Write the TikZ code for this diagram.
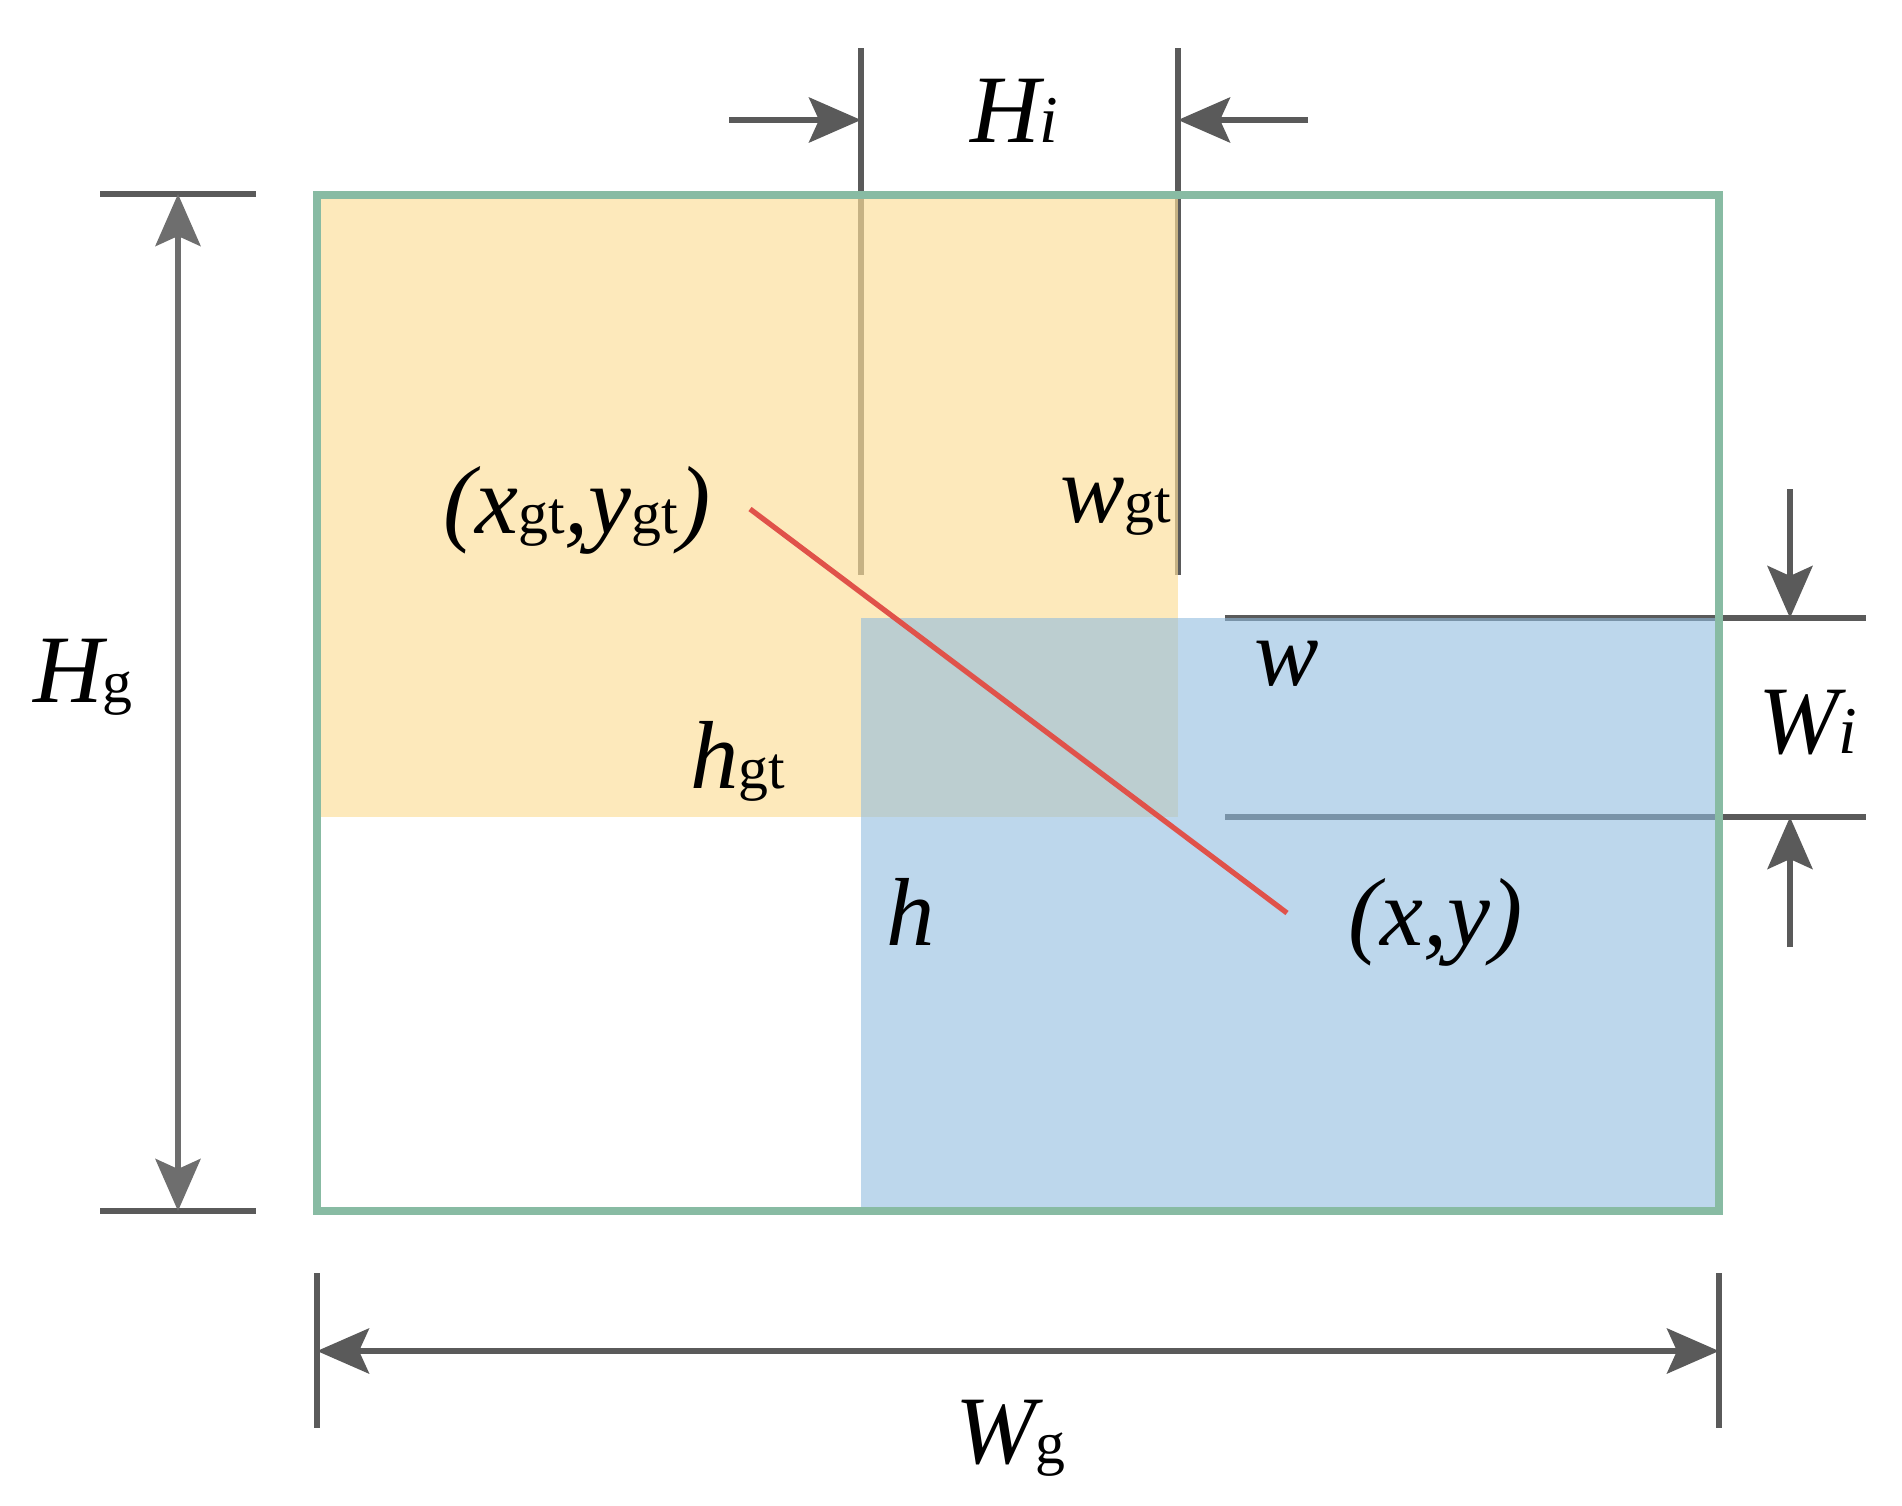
\documentclass[tikz,border=0pt]{standalone}
\usepackage{fontspec}
\setmainfont{Liberation Serif}
\usetikzlibrary{arrows.meta}
\definecolor{gridgrey}{HTML}{5A5A5A}
\definecolor{lightgrey}{HTML}{6E6E6E}
\definecolor{boxgreen}{HTML}{88BBA3}
\definecolor{gtfill}{RGB}{252,222,153}
\definecolor{predfill}{RGB}{143,187,223}
\definecolor{linkred}{HTML}{E0524A}
\newcommand{\subi}[1]{{\fontsize{19}{19}\selectfont\itshape #1}}
\newcommand{\subg}[1]{{\fontsize{17}{17}\selectfont\upshape #1}}
\tikzset{
  dimline/.style={draw=gridgrey, line width=1.6pt},
  dimarrow/.style={draw=gridgrey, line width=1.6pt, -{Stealth[length=0.52cm,width=0.45cm,inset=0.1cm]}},
  lbl/.style={inner sep=0pt, outer sep=0pt, anchor=base west, font=\fontsize{27.5}{27.5}\selectfont\itshape, text=black}
}
\begin{document}
\begin{tikzpicture}[x=0.01cm, y=-0.01cm]
\useasboundingbox (0,0) rectangle (1902,1506);
% guide lines (drawn under the translucent boxes)
\coordinate (vl1t) at (861,48);   \coordinate (vl1b) at (861,575);
\coordinate (vl2t) at (1178,48);  \coordinate (vl2b) at (1178,575);
\coordinate (hl1l) at (1225,618); \coordinate (hl1r) at (1866,618);
\coordinate (hl2l) at (1225,817); \coordinate (hl2r) at (1866,817);
\draw[dimline] (vl1t) -- (vl1b);
\draw[dimline] (vl2t) -- (vl2b);
\draw[dimline] (hl1l) -- (hl1r);
\draw[dimline] (hl2l) -- (hl2r);
% boxes
\fill[gtfill, fill opacity=0.665] (317,195) rectangle (1178,817);
\fill[predfill, fill opacity=0.59] (861,618) rectangle (1719,1211);
\draw[boxgreen, line width=2pt] (317,195) rectangle (1719,1211);
% centre link
\coordinate (cgt) at (750,509);
\coordinate (cpr) at (1287,913);
\draw[linkred, line width=1.5pt] (cgt) -- (cpr);
% H_i arrows
\coordinate (hia) at (729,120);  \coordinate (hib) at (861,120);
\coordinate (hic) at (1308,120); \coordinate (hid) at (1178,120);
\draw[dimarrow] (hia) -- (hib);
\draw[dimarrow] (hic) -- (hid);
% W_i arrows
\coordinate (wia) at (1790,489); \coordinate (wib) at (1790,618);
\coordinate (wic) at (1790,947); \coordinate (wid) at (1790,817);
\draw[dimarrow] (wia) -- (wib);
\draw[dimarrow] (wic) -- (wid);
% H_g dimension
\coordinate (hgt1) at (100,194);  \coordinate (hgt2) at (256,194);
\coordinate (hgb1) at (100,1211); \coordinate (hgb2) at (256,1211);
\coordinate (hga) at (178,194);   \coordinate (hgb) at (178,1211);
\draw[dimline] (hgt1) -- (hgt2);
\draw[dimline] (hgb1) -- (hgb2);
\draw[dimarrow, draw=lightgrey, {Stealth[length=0.52cm,width=0.45cm,inset=0.1cm]}-{Stealth[length=0.52cm,width=0.45cm,inset=0.1cm]}] (hga) -- (hgb);
% W_g dimension
\coordinate (wgl1) at (317,1273);  \coordinate (wgl2) at (317,1428);
\coordinate (wgr1) at (1719,1273); \coordinate (wgr2) at (1719,1428);
\coordinate (wga) at (317,1351);   \coordinate (wgb) at (1719,1351);
\draw[dimline] (wgl1) -- (wgl2);
\draw[dimline] (wgr1) -- (wgr2);
\draw[dimarrow, {Stealth[length=0.52cm,width=0.45cm,inset=0.1cm]}-{Stealth[length=0.52cm,width=0.45cm,inset=0.1cm]}] (wga) -- (wgb);
% labels
\node[lbl] (Hi) at (970,143) {H\subi{i}};
\node[lbl] (Hg) at (33,702) {H\subg{g}};
\node[lbl] (xgt) at (443,533) {(x\subg{gt},y\subg{gt})};
\node[lbl] (wgt) at (1060,522) {w\subg{gt}};
\node[lbl] (hgt) at (690,788) {h\subg{gt}};
\node[lbl] (w) at (1254,685) {w};
\node[lbl] (Wi) at (1758,753) {W\subi{i}};
\node[lbl] (xy) at (1348,945) {(x,y)};
\node[lbl] (h) at (886,945) {h};
\node[lbl] (Wg) at (955,1463) {W\subg{g}};
\end{tikzpicture}
\end{document}
